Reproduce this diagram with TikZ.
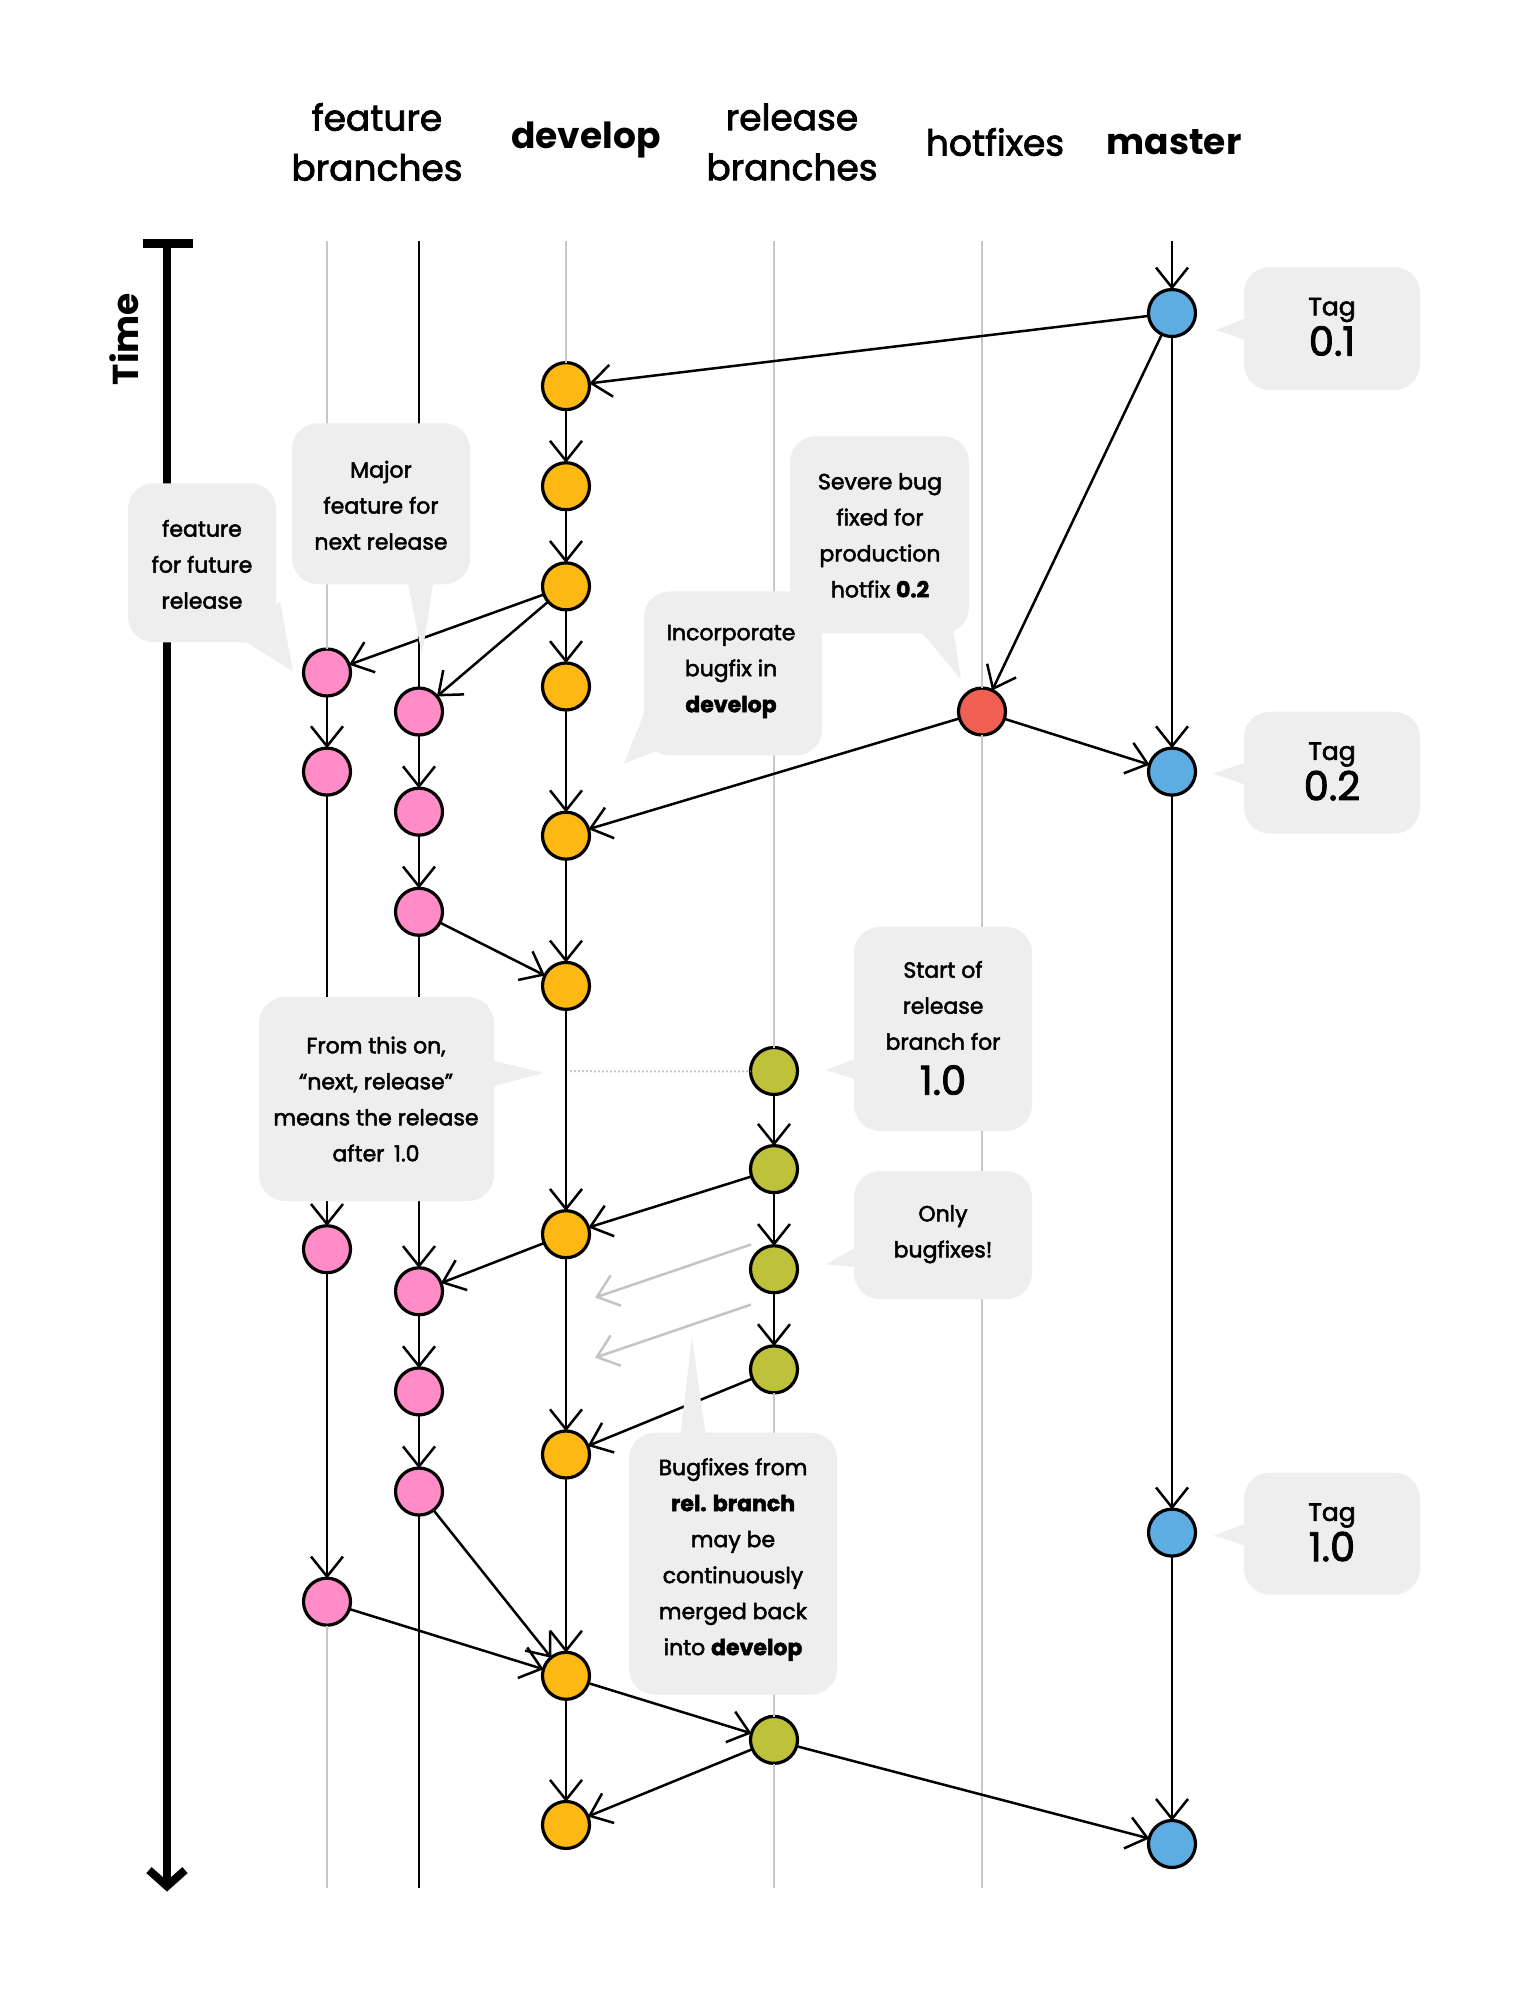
\documentclass[tikz,border=0pt]{standalone}
\usepackage{fontspec}
\setmainfont{Poppins}
\newfontfamily\medfont{Poppins}[FakeBold=2.2]
\usetikzlibrary{arrows.meta}
\definecolor{devc}{HTML}{FDB813}
\definecolor{featc}{HTML}{FF8CC6}
\definecolor{relc}{HTML}{BEC23B}
\definecolor{masc}{HTML}{5DADE2}
\definecolor{hotc}{HTML}{EF5F52}
\definecolor{callc}{HTML}{EEEEEE}
\definecolor{lanec}{HTML}{C8C8C8}
\definecolor{garrc}{HTML}{C4C4C4}
\begin{document}
\begin{tikzpicture}[x=1pt,y=-1pt,
  commit/.style={circle,draw=black,line width=3.2pt,minimum size=47pt,inner sep=0pt,outer sep=0pt},
  dev/.style={commit,fill=devc},
  feat/.style={commit,fill=featc},
  rel/.style={commit,fill=relc},
  mas/.style={commit,fill=masc},
  hot/.style={commit,fill=hotc},
  lane/.style={line width=2.5pt,draw=lanec},
  blk/.style={line width=2.5pt,draw=black},
  arr/.style={line width=2.5pt,draw=black,-{Straight Barb[length=20pt,width=32pt]}},
  garr/.style={line width=2.5pt,draw=garrc,-{Straight Barb[length=20pt,width=32pt]}},
  callout/.style={fill=callc,rounded corners=26pt,inner sep=0pt},
  ctext/.style={align=center,inner sep=0pt,font=\medfont\fontsize{22}{36}\selectfont},
  head/.style={align=center,inner sep=0pt,font=\medfont\fontsize{36}{50}\selectfont},
  ptr/.style={fill=callc},
]
\useasboundingbox (0,0) rectangle (1520,1990);
\fill[white] (0,0) rectangle (1520,1990);

% headers
\node[head] (hfeat) at (377,142) {feature\\branches};
\node[head,font=\fontsize{36}{50}\selectfont\bfseries] (hdev) at (586,140) {develop};
\node[head] (hrel) at (792,142) {release\\branches};
\node[head] (hhot) at (995,142) {hotfixes};
\node[head,font=\fontsize{36}{50}\selectfont\bfseries] (hmas) at (1174,142) {master};

\begin{scope}[yscale=1.0013,yshift=-2.6pt]
% time axis
\coordinate (tt) at (167,241);
\coordinate (tb) at (167,1886);
\coordinate (tcl) at (143,241);
\coordinate (tcr) at (193,241);
\draw[line width=8pt,-{Straight Barb[length=16pt,width=36pt]}] (tt) -- (tb);
\draw[line width=9pt] (tcl) -- (tcr);
\node[rotate=90,font=\fontsize{36}{40}\selectfont\bfseries] (time) at (124,336) {Time};

% lane coordinates
\coordinate (f1t) at (327,238);  \coordinate (f1b) at (327,1883);
\coordinate (f2t) at (419,238);  \coordinate (f2b) at (419,1883);
\coordinate (dt) at (566,238);
\coordinate (rt) at (774,238);   \coordinate (rb) at (774,1883);
\coordinate (ht) at (982,238);   \coordinate (hb) at (982,1883);
\coordinate (mt) at (1172,238);

% commits
\node[mas] (M1) at (1172,310) {};
\node[mas] (M2) at (1172,768) {};
\node[mas] (M3) at (1172,1528) {};
\node[mas] (M4) at (1172,1839) {};

\node[dev] (D1) at (566,383) {};
\node[dev] (D2) at (566,483) {};
\node[dev] (D3) at (566,583) {};
\node[dev] (D4) at (566,683) {};
\node[dev] (D5) at (566,832) {};
\node[dev] (D6) at (566,982) {};
\node[dev] (D7) at (566,1230) {};
\node[dev] (D8) at (566,1450) {};
\node[dev] (D9) at (566,1671) {};
\node[dev] (D10) at (566,1820) {};

\node[feat] (F1a) at (327,669) {};
\node[feat] (F1b) at (327,768) {};
\node[feat] (F1c) at (327,1245) {};
\node[feat] (F1d) at (327,1597) {};

\node[feat] (F2a) at (419,708) {};
\node[feat] (F2b) at (419,808) {};
\node[feat] (F2c) at (419,908) {};
\node[feat] (F2d) at (419,1287) {};
\node[feat] (F2e) at (419,1387) {};
\node[feat] (F2f) at (419,1487) {};

\node[rel] (R1) at (774,1067) {};
\node[rel] (R2) at (774,1165) {};
\node[rel] (R3) at (774,1265) {};
\node[rel] (R4) at (774,1365) {};
\node[rel] (R5) at (774,1735) {};

\node[hot] (H1) at (982,708) {};

% lanes
\draw[lane] (f1t) -- (F1a);
\draw[lane] (F1d) -- (f1b);
\draw[lane] (dt) -- (D1);
\draw[lane] (rt) -- (R1);
\draw[lane] (R4) -- (R5);
\draw[lane] (R5) -- (rb);
\draw[lane] (ht) -- (H1);
\draw[lane] (H1) -- (hb);
\draw[blk] (f2t) -- (F2a);
\draw[blk] (F2f) -- (f2b);

% dotted marker
\coordinate (dots) at (570,1067);
\draw[lanec,line width=2pt,dotted] (dots) -- (R1);

% lane arrows
\draw[arr] (mt) -- (M1);
\draw[arr] (M1) -- (M2);
\draw[arr] (M2) -- (M3);
\draw[arr] (M3) -- (M4);
\draw[arr] (D1) -- (D2);
\draw[arr] (D2) -- (D3);
\draw[arr] (D3) -- (D4);
\draw[arr] (D4) -- (D5);
\draw[arr] (D5) -- (D6);
\draw[arr] (D6) -- (D7);
\draw[arr] (D7) -- (D8);
\draw[arr] (D8) -- (D9);
\draw[arr] (D9) -- (D10);
\draw[arr] (F1a) -- (F1b);
\draw[arr] (F1b) -- (F1c);
\draw[arr] (F1c) -- (F1d);
\draw[arr] (F2a) -- (F2b);
\draw[arr] (F2b) -- (F2c);
\draw[arr] (F2c) -- (F2d);
\draw[arr] (F2d) -- (F2e);
\draw[arr] (F2e) -- (F2f);
\draw[arr] (R1) -- (R2);
\draw[arr] (R2) -- (R3);
\draw[arr] (R3) -- (R4);

% cross arrows
\draw[arr] (M1) -- (D1);
\draw[arr] (M1) -- (H1);
\draw[arr] (H1) -- (M2);
\draw[arr] (H1) -- (D5);
\draw[arr] (D3) -- (F1a);
\draw[arr] (D3) -- (F2a);
\draw[arr] (F2c) -- (D6);
\draw[arr] (R2) -- (D7);
\draw[arr] (D7) -- (F2d);
\draw[arr] (R4) -- (D8);
\draw[arr] (F2f) -- (D9);
\draw[arr] (F1d) -- (D9);
\draw[arr] (D9) -- (R5);
\draw[arr] (R5) -- (D10);
\draw[arr] (R5) -- (M4);

% gray arrows
\coordinate (g1s) at (751,1240); \coordinate (g1e) at (595,1293);
\coordinate (g2s) at (751,1300); \coordinate (g2e) at (595,1353);
\draw[garr] (g1s) -- (g1e);
\draw[garr] (g2s) -- (g2e);

% callouts
\node[callout,minimum width=148pt,minimum height=159pt] (c1) at (202,559.5) {};
\fill[ptr] (280,598) -- (242,636) -- (293,668) -- cycle;
\node[ctext] (c1t) at (202,561) {feature\\for future\\release};

\node[callout,minimum width=178pt,minimum height=161pt] (c2) at (381,500.5) {};
\fill[ptr] (407,575) -- (434,575) -- (422,652) -- cycle;
\node[ctext] (c2t) at (381,502) {Major\\feature for\\next release};

\node[callout,minimum width=179pt,minimum height=197pt] (c3) at (879.5,531.5) {};
\fill[ptr] (916,622) -- (952,618) -- (961,676) -- cycle;
\node[ctext] (c3t) at (880,532) {Severe bug\\fixed for\\production\\hotfix \textbf{0.2}};

\node[callout,minimum width=178pt,minimum height=164pt] (c4) at (733,670) {};
\fill[ptr] (650,695) -- (662,745) -- (624,760) -- cycle;
\node[ctext] (c4t) at (731,668) {Incorporate\\bugfix in\\\textbf{develop}};

\node[callout,minimum width=235pt,minimum height=204pt] (c5) at (376.5,1095) {};
\fill[ptr] (490,1056) -- (490,1083) -- (544,1069) -- cycle;
\node[ctext] (c5t) at (376,1095) {From this on,\\“next, release”\\means the release\\after\, 1.0};

\node[callout,minimum width=178pt,minimum height=204pt] (c6) at (943,1025) {};
\fill[ptr] (858,1054) -- (858,1076) -- (826,1066) -- cycle;
\node[ctext] (c6t) at (943,1024) {Start of\\release\\branch for\\[9pt]{\fontsize{40}{40}\selectfont 1.0}};

\node[callout,minimum width=178pt,minimum height=128pt] (c7) at (943,1231) {};
\fill[ptr] (858,1242) -- (858,1263) -- (826,1260) -- cycle;
\node[ctext] (c7t) at (943,1230) {Only\\bugfixes!};

\node[callout,minimum width=208pt,minimum height=262pt] (c8) at (733,1559) {};
\fill[ptr] (680,1434) -- (706,1434) -- (692,1333) -- cycle;
\node[ctext] (c8t) at (733,1555) {Bugfixes from\\\textbf{rel. branch}\\may be\\continuously\\merged back\\into \textbf{develop}};

% Tags
\node[callout,minimum width=176pt,minimum height=123pt] (tg1) at (1332,325.5) {};
\fill[ptr] (1248,314) -- (1248,338) -- (1216,327) -- cycle;
\node[font=\medfont\fontsize{25}{25}\selectfont] (tg1a) at (1332,307) {Tag};
\node[font=\medfont\fontsize{40}{40}\selectfont] (tg1b) at (1332,338) {0.1};

\node[callout,minimum width=176pt,minimum height=122pt] (tg2) at (1332,769) {};
\fill[ptr] (1248,758) -- (1248,782) -- (1213,770) -- cycle;
\node[font=\medfont\fontsize{25}{25}\selectfont] (tg2a) at (1332,751) {Tag};
\node[font=\medfont\fontsize{40}{40}\selectfont] (tg2b) at (1332,782) {0.2};

\node[callout,minimum width=176pt,minimum height=122pt] (tg3) at (1332,1529) {};
\fill[ptr] (1248,1518) -- (1248,1542) -- (1214,1531) -- cycle;
\node[font=\medfont\fontsize{25}{25}\selectfont] (tg3a) at (1332,1511) {Tag};
\node[font=\medfont\fontsize{40}{40}\selectfont] (tg3b) at (1332,1542) {1.0};
\end{scope}
\end{tikzpicture}
\end{document}
